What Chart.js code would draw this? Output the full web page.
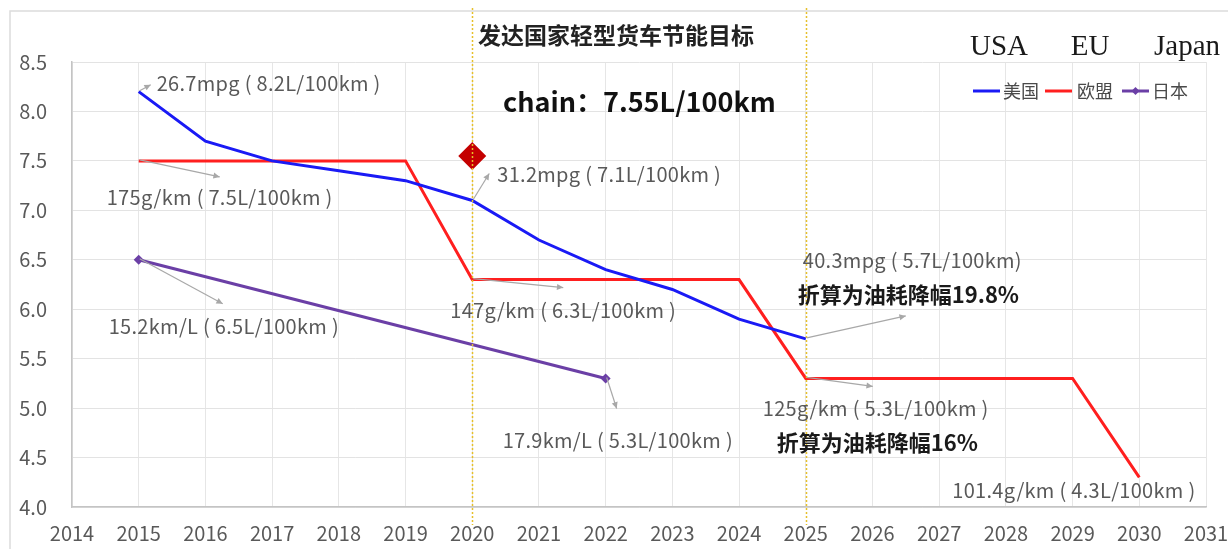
<!DOCTYPE html>
<html>
<head>
<meta charset="utf-8">
<script src="https://cdn.jsdelivr.net/npm/chart.js@4.4.1/dist/chart.umd.min.js"></script>
<style>
  html, body { margin: 0; padding: 0; background: #ffffff; }
  #wrap { width: 1228px; height: 549px; position: relative; }
</style>
</head>
<body>
<div id="wrap"><canvas id="c" width="1228" height="549"></canvas></div>
<script>
// Fuel consumption targets for light trucks, L/100km
const years = ['2014','2015','2016','2017','2018','2019','2020','2021','2022','2023','2024','2025','2026','2027','2028','2029','2030','2031'];
const usa   = [null, 8.2, 7.7, 7.5, 7.4, 7.3, 7.1, 6.7, 6.4, 6.2, 5.9, 5.7, null, null, null, null, null, null];
const eu    = [null, 7.5, 7.5, 7.5, 7.5, 7.5, 6.3, 6.3, 6.3, 6.3, 6.3, 5.3, 5.3, 5.3, 5.3, 5.3, 4.3, null];
const japan = [null, 6.5, null, null, null, null, null, null, 5.3, null, null, null, null, null, null, null, null, null];
const china = [null, null, null, null, null, null, 7.55, null, null, null, null, null, null, null, null, null, null, null];
const yTicks = [4.0, 4.5, 5.0, 5.5, 6.0, 6.5, 7.0, 7.5, 8.0, 8.5];
const seriesNames = ['美国', '欧盟', '日本', '中国'];

// Callout texts: dataset index, category index, text
const notes = [
  { ds: 0, i: 1,  text: '26.7mpg ( 8.2L/100km )' },
  { ds: 1, i: 1,  text: '175g/km ( 7.5L/100km )' },
  { ds: 2, i: 1,  text: '15.2km/L ( 6.5L/100km )' },
  { ds: 0, i: 6,  text: '31.2mpg ( 7.1L/100km )' },
  { ds: 1, i: 6,  text: '147g/km ( 6.3L/100km )' },
  { ds: 2, i: 8,  text: '17.9km/L ( 5.3L/100km )' },
  { ds: 0, i: 11, text: '40.3mpg ( 5.7L/100km)' },
  { ds: 1, i: 11, text: '125g/km ( 5.3L/100km )' },
  { ds: 1, i: 16, text: '101.4g/km ( 4.3L/100km )' }
];
const remarks = ['折算为油耗降幅19.8%', '折算为油耗降幅16%'];
const titleText = '发达国家轻型货车节能目标';
const chinaText = 'chain：7.55L/100km';
const regionWords = ['USA', 'EU', 'Japan'];

// Placement of callouts relative to their point (pixels): arrow tip, text left/middle
const noteLayout = [
  { arrow: [12, -7],  text: [18, -8] },
  { arrow: [81, 16],  text: [-32, 37] },
  { arrow: [84, 44],  text: [-30, 67] },
  { arrow: [17, -27], text: [25, -26] },
  { arrow: [91, 8],   text: [-22, 31] },
  { arrow: [11, 30],  text: [-103, 62] },
  { arrow: [100, -23], text: [-3, -78] },
  { arrow: [67, 8],   text: [-43, 30] },
  { arrow: null,      text: [-187, 13] }
];
const remarkLayout = [ { note: 6, text: [-8, -44] }, { note: 7, text: [-29, 64] } ];

const BLUE = '#1a1af5', RED = '#ff1f1f', PURPLE = '#6b3fa6', CHINA = '#c40000';
const CJK = '"Noto Sans CJK SC", "Noto Sans", sans-serif';

function drawArrow(ctx, x1, y1, x2, y2) {
  ctx.beginPath();
  ctx.moveTo(x1, y1);
  ctx.lineTo(x2, y2);
  ctx.stroke();
  const a = Math.atan2(y2 - y1, x2 - x1), h = 7;
  ctx.beginPath();
  ctx.moveTo(x2, y2);
  ctx.lineTo(x2 - h * Math.cos(a - 0.45), y2 - h * Math.sin(a - 0.45));
  ctx.lineTo(x2 - h * Math.cos(a + 0.45), y2 - h * Math.sin(a + 0.45));
  ctx.closePath();
  ctx.fill();
}

const decorations = {
  id: 'decorations',
  beforeDraw(chart) {
    const ctx = chart.ctx;
    ctx.save();
    ctx.strokeStyle = '#dcdcdc';
    ctx.lineWidth = 1.5;
    ctx.beginPath();
    ctx.moveTo(10, 549);
    ctx.lineTo(10, 11);
    ctx.lineTo(1228, 11);
    ctx.stroke();
    ctx.restore();
  },
  afterDatasetsDraw(chart) {
    const ctx = chart.ctx;
    const xs = chart.scales.x, ys = chart.scales.y;
    ctx.save();

    // dotted markers for 2020 and 2025
    ctx.strokeStyle = '#e6c02a';
    ctx.lineWidth = 1.5;
    ctx.setLineDash([2, 2]);
    [6, 11].forEach(i => {
      const x = Math.round(xs.getPixelForValue(i)) + 0.5;
      ctx.beginPath();
      ctx.moveTo(x, 8);
      ctx.lineTo(x, 525);
      ctx.stroke();
    });
    ctx.setLineDash([]);

    // callouts
    ctx.strokeStyle = '#a8a8a8';
    ctx.fillStyle = '#a8a8a8';
    ctx.lineWidth = 1.2;
    const anchors = notes.map(n => {
      const v = chart.data.datasets[n.ds].data[n.i];
      return [xs.getPixelForValue(n.i), ys.getPixelForValue(v)];
    });
    notes.forEach((n, k) => {
      const L = noteLayout[k], p = anchors[k];
      if (L.arrow) drawArrow(ctx, p[0] + 1, p[1] - 1, p[0] + L.arrow[0], p[1] + L.arrow[1]);
    });
    ctx.fillStyle = '#595959';
    ctx.font = '20px ' + CJK;
    ctx.letterSpacing = '0.3px';
    ctx.textBaseline = 'middle';
    ctx.textAlign = 'left';
    notes.forEach((n, k) => {
      const L = noteLayout[k], p = anchors[k];
      ctx.fillText(n.text, p[0] + L.text[0], p[1] + L.text[1]);
    });
    ctx.letterSpacing = '0px';
    ctx.fillStyle = '#1a1a1a';
    ctx.font = 'bold 22px ' + CJK;
    remarks.forEach((t, k) => {
      const R = remarkLayout[k], p = anchors[R.note];
      ctx.fillText(t, p[0] + R.text[0], p[1] + R.text[1]);
    });

    // headings
    ctx.fillStyle = '#222222';
    ctx.font = 'bold 23px ' + CJK;
    ctx.fillText(titleText, 478, 35);
    ctx.fillStyle = '#111111';
    ctx.font = 'bold 27px ' + CJK;
    ctx.fillText(chinaText, 503, 102);

    ctx.fillStyle = '#1a1a1a';
    ctx.font = '29px "Liberation Serif", serif';
    ctx.textAlign = 'center';
    [999, 1090, 1187].forEach((x, k) => ctx.fillText(regionWords[k], x, 47));

    // legend
    ctx.textAlign = 'left';
    ctx.font = '18px ' + CJK;
    const items = [[973, 1003], [1045, 1077], [1122, 1152]];
    items.forEach((it, k) => {
      const ds = chart.data.datasets[k];
      ctx.strokeStyle = ds.borderColor;
      ctx.lineWidth = 3;
      ctx.beginPath();
      ctx.moveTo(it[0], 91);
      ctx.lineTo(it[0] + 27, 91);
      ctx.stroke();
      if (ds.pointRadius > 0) {
        ctx.fillStyle = ds.borderColor;
        ctx.beginPath();
        ctx.moveTo(it[0] + 13.5 - 4, 91);
        ctx.lineTo(it[0] + 13.5, 87);
        ctx.lineTo(it[0] + 13.5 + 4, 91);
        ctx.lineTo(it[0] + 13.5, 95);
        ctx.closePath();
        ctx.fill();
      }
      ctx.fillStyle = '#4a4a4a';
      ctx.fillText(ds.label, it[1], 91);
    });
    ctx.restore();
  }
};

new Chart(document.getElementById('c'), {
  type: 'line',
  data: {
    labels: years,
    datasets: [
      { label: seriesNames[0], data: usa, borderColor: BLUE, backgroundColor: BLUE, borderWidth: 3, pointRadius: 0, tension: 0 },
      { label: seriesNames[1], data: eu, borderColor: RED, backgroundColor: RED, borderWidth: 3, pointRadius: 0, tension: 0 },
      { label: seriesNames[2], data: japan, borderColor: PURPLE, backgroundColor: PURPLE, borderWidth: 3, spanGaps: true,
        pointStyle: 'rectRot', pointRadius: 5, pointBorderWidth: 0, tension: 0 },
      { label: seriesNames[3], data: china, showLine: false, borderColor: CHINA, backgroundColor: CHINA,
        pointStyle: 'rectRot', pointRadius: 14, pointBorderWidth: 0 }
    ]
  },
  options: {
    responsive: false,
    animation: false,
    devicePixelRatio: 1,
    layout: { padding: { left: 0, top: 62, right: 22, bottom: 0 } },
    plugins: { legend: { display: false }, tooltip: { enabled: false }, title: { display: false } },
    scales: {
      x: {
        type: 'category',
        offset: false,
        grid: { color: '#e6e6e6', lineWidth: 1, drawTicks: false },
        border: { color: '#c4c4c4', width: 1.5 },
        ticks: { color: '#595959', font: { family: CJK, size: 20 }, padding: 14, maxRotation: 0, autoSkip: false },
        afterFit(s) { s.height = 42; s.paddingLeft = 0; s.paddingRight = 0; }
      },
      y: {
        min: 4, max: 8.5,
        grid: { color: '#e3e3e3', lineWidth: 1, drawTicks: false },
        border: { color: '#c4c4c4', width: 1.5 },
        afterBuildTicks(s) { s.ticks = yTicks.map(v => ({ value: v })); },
        ticks: { color: '#595959', font: { family: CJK, size: 20 }, padding: 25, callback: v => v.toFixed(1) },
        afterFit(s) { s.width = 72; s.paddingTop = 0; s.paddingBottom = 0; }
      }
    }
  },
  plugins: [decorations]
});
</script>
</body>
</html>
